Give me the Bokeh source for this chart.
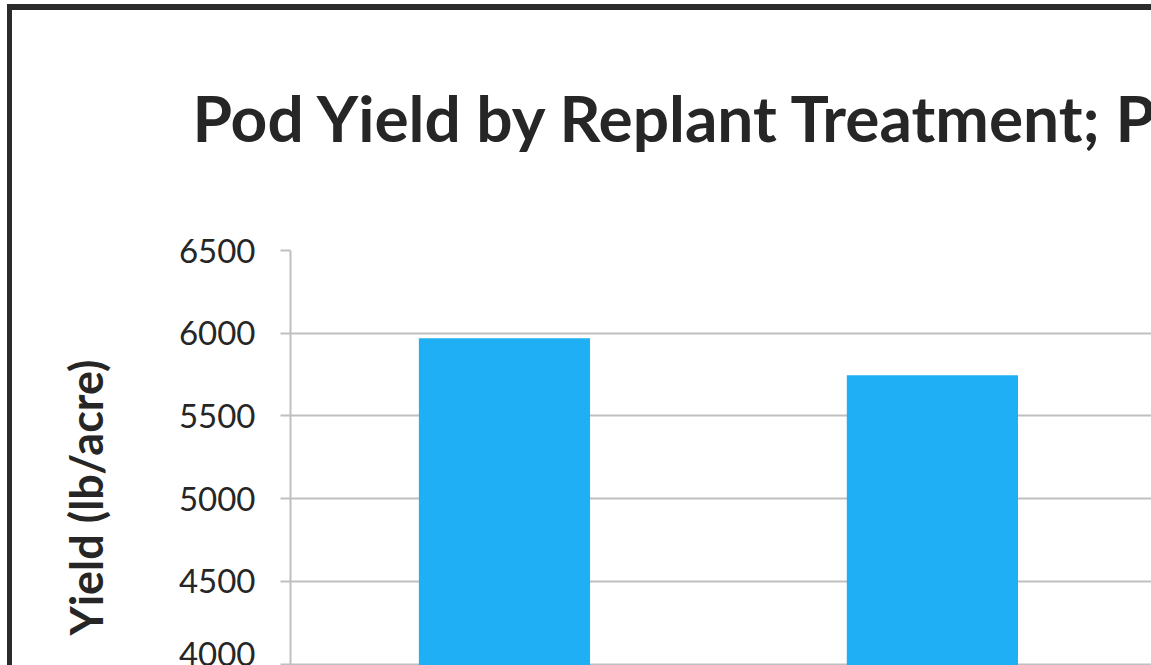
from bokeh.plotting import figure
from bokeh.models import Range1d, ColumnDataSource, FixedTicker, Title, InlineStyleSheet
from bokeh.embed import file_html
from bokeh.resources import INLINE

# data
categories = ["Treatment A", "Treatment B"]
yields = [5970, 5746]
y_ticks = [4000, 4500, 5000, 5500, 6000, 6500]
title_text = "Pod Yield by Replant Treatment; P"
y_label = "Yield (lb/acre)"

border_css = InlineStyleSheet(css="""
:host { position: relative; }
:host::after {
  content: ""; position: absolute; left: 7px; top: 4px;
  width: calc(100% - 7px); height: calc(100% - 4px);
  border-left: 5px solid #2B2B2B; border-top: 6px solid #2B2B2B;
  box-sizing: border-box; pointer-events: none; z-index: 10;
}
""")

W, H = 1151, 665
p = figure(width=W, height=H, output_backend="svg", toolbar_location=None,
           title_location=None,
           x_range=Range1d(0, 2.012), y_range=Range1d(3991, 6500),
           min_border_left=290, min_border_right=0, min_border_top=250, min_border_bottom=0,
           stylesheets=[border_css])
p.outline_line_color = None
p.xaxis.visible = False
p.xgrid.visible = False

src = ColumnDataSource(dict(x=[i + 0.5 for i in range(len(categories))], top=yields, cat=categories))
p.vbar(x="x", top="top", bottom=0, width=0.4, source=src, fill_color="#1FAFF5", line_color=None)

ya = p.yaxis[0]
ya.ticker = FixedTicker(ticks=y_ticks)
ya.axis_line_color = "#BFBFBF"
ya.axis_line_width = 2
ya.major_tick_line_color = "#BFBFBF"
ya.major_tick_line_width = 2
ya.major_tick_out = 10
ya.major_tick_in = 0
ya.minor_tick_line_color = None
ya.major_label_standoff = 25
ya.major_label_text_font = "Lato"
ya.major_label_text_font_size = "33px"
ya.major_label_text_color = "#262626"

p.ygrid.grid_line_color = "#BFBFBF"
p.ygrid.grid_line_width = 2

# spacing slots between the frame and the titles
p.add_layout(Title(text=" ", text_font_size="10px", standoff=82), "above")
p.add_layout(Title(text=" ", text_font_size="10px", standoff=5), "left")

main_title = Title(text=title_text, align="left", offset=-98, standoff=0,
                   text_font="Lato", text_font_style="bold", text_font_size="64px",
                   text_color="#262626")
p.add_layout(main_title, "above")

ytitle = Title(text=y_label, align="left", offset=30, standoff=90,
               text_font="Lato", text_font_style="bold", text_font_size="45px",
               text_color="#262626")
p.add_layout(ytitle, "left")

open("out.html", "w").write(file_html(p, INLINE))
